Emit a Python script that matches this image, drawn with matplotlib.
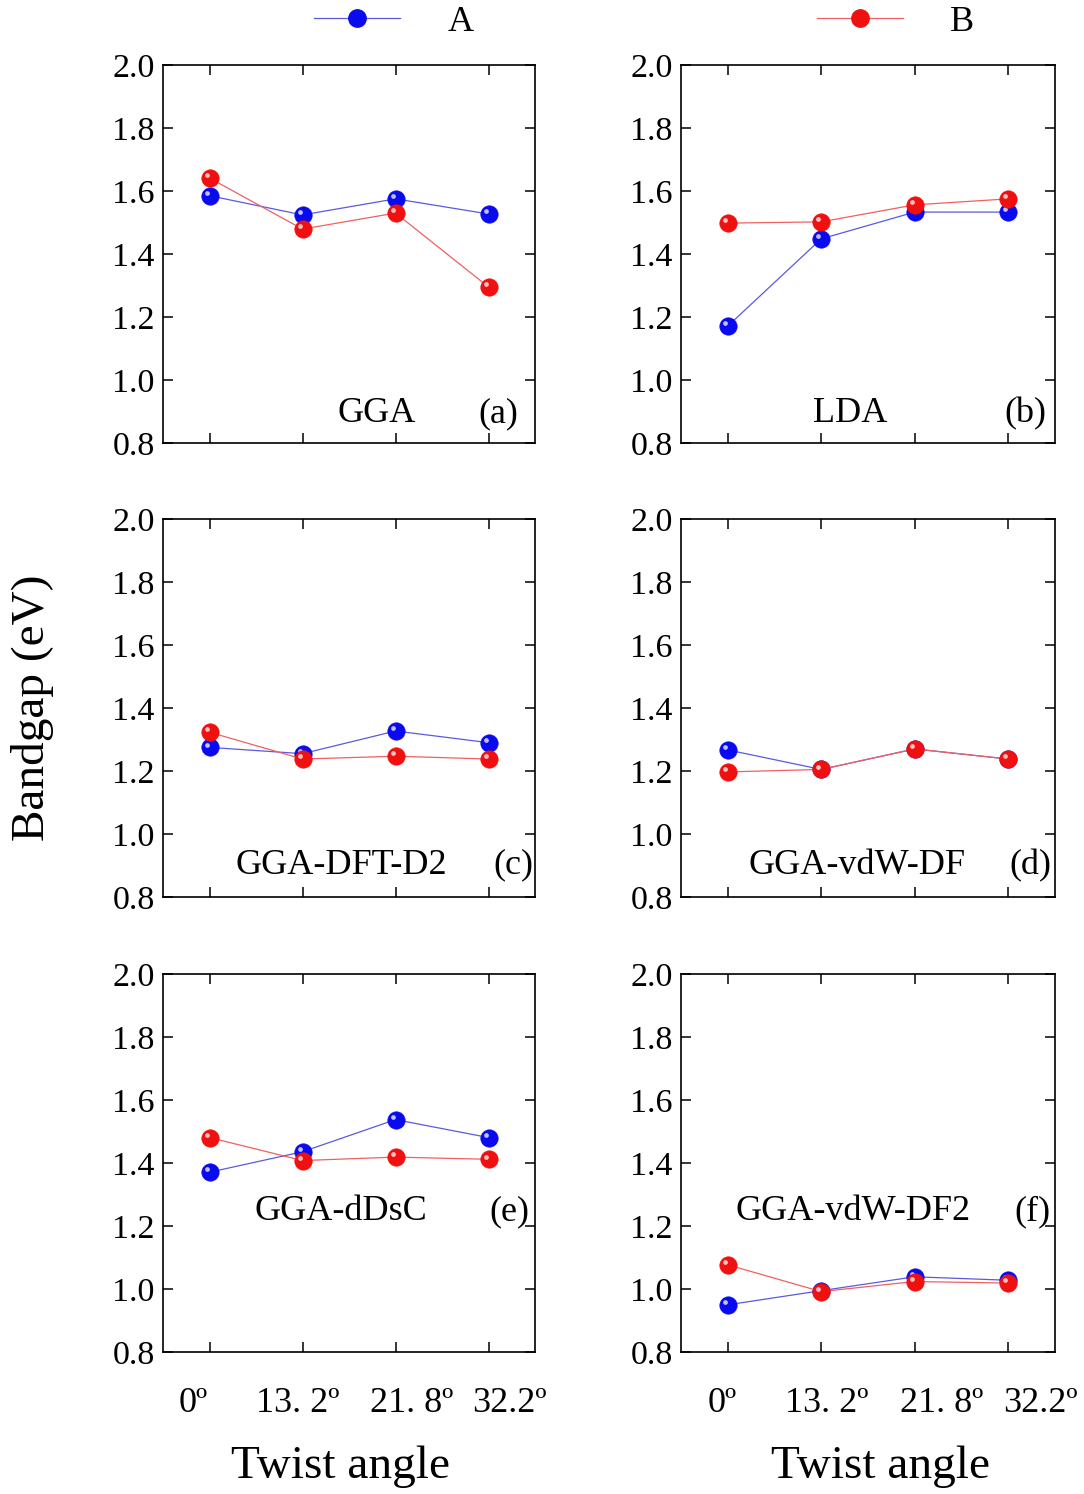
import matplotlib
matplotlib.use("Agg")
import matplotlib.pyplot as plt
import matplotlib.transforms as mtransforms
from matplotlib.lines import Line2D

plt.rcParams['font.family'] = ['Liberation Serif', 'DejaVu Serif']

# ---- data ----
angles = [0, 1, 2, 3]
angle_labels = ['0º', '13. 2º', '21. 8º', '32.2º']
methods = ['GGA', 'LDA', 'GGA-DFT-D2', 'GGA-vdW-DF', 'GGA-dDsC', 'GGA-vdW-DF2']
tags = ['(a)', '(b)', '(c)', '(d)', '(e)', '(f)']

gap_A = [
    [1.585, 1.524, 1.575, 1.527],
    [1.171, 1.448, 1.533, 1.533],
    [1.275, 1.255, 1.327, 1.290],
    [1.267, 1.205, 1.270, 1.238],
    [1.371, 1.436, 1.538, 1.481],
    [0.950, 0.995, 1.039, 1.028],
]
gap_B = [
    [1.641, 1.479, 1.530, 1.295],
    [1.498, 1.502, 1.556, 1.575],
    [1.323, 1.238, 1.247, 1.238],
    [1.197, 1.205, 1.270, 1.238],
    [1.481, 1.408, 1.419, 1.412],
    [1.077, 0.992, 1.024, 1.019],
]
yticks = [0.8, 1.0, 1.2, 1.4, 1.6, 1.8, 2.0]

# ---- layout (figure fractions) ----
col_x = [0.1504, 0.6282]
col_w = [0.3432, 0.3450]
row_y = [0.7035, 0.3996, 0.0950]
ax_h = 0.2530

# where the method name / tag sit inside each panel (axes coords)
name_pos = [(0.573, 0.077), (0.452, 0.077), (0.479, 0.084),
            (0.471, 0.084), (0.478, 0.372), (0.460, 0.372)]
tag_pos = [(0.900, 0.077), (0.922, 0.077), (0.941, 0.084),
           (0.933, 0.084), (0.930, 0.372), (0.940, 0.372)]
# the tick labels are not centred on their ticks in the original (pixels)
lab_shift = [[-16, -5, 16, 21], [-6, 5, 27, 32]]

colA_m, colA_l = '#0a0af0', '#5a5ae0'
colB_m, colB_l = '#f01010', '#f06060'

fig = plt.figure(figsize=(10.84, 14.94), dpi=100)


def balls(ax, x, y, mcol, lcol, z):
    ax.plot(x, y, '-', color=lcol, lw=0.9, zorder=z)
    ax.plot(x, y, 'o', ls='none', ms=12.5, mfc=mcol, mec=mcol, mew=0.5, zorder=z + 0.1)
    hl = mtransforms.offset_copy(ax.transData, fig=fig, x=-2.0, y=2.0, units='points')
    ax.plot(x, y, 'o', ls='none', ms=3.4, mfc='white', mec='none', alpha=0.75,
            transform=hl, zorder=z + 0.2)


for i in range(6):
    r, c = divmod(i, 2)
    ax = fig.add_axes([col_x[c], row_y[r], col_w[c], ax_h])
    balls(ax, angles, gap_A[i], colA_m, colA_l, 3)
    balls(ax, angles, gap_B[i], colB_m, colB_l, 4)
    ax.set_xlim(-0.5, 3.5)
    ax.set_ylim(0.8, 2.0)
    ax.set_yticks(yticks)
    ax.set_yticklabels(['%.1f' % v for v in yticks])
    ax.set_xticks(angles)
    ax.tick_params(direction='in', length=7, width=1.1, top=True, right=True,
                   labelsize=24.5)
    ax.tick_params(axis='x', pad=25, labelsize=26)
    ax.tick_params(axis='y', pad=6)
    if r == 2:
        ax.set_xticklabels(angle_labels)
        for lab, dx in zip(ax.get_xticklabels(), lab_shift[c]):
            lab.set_transform(lab.get_transform() +
                              mtransforms.ScaledTranslation(dx / 100, 0, fig.dpi_scale_trans))
    else:
        ax.set_xticklabels([])
    for s in ax.spines.values():
        s.set_linewidth(1.2)
    ax.text(*name_pos[i], methods[i], transform=ax.transAxes, fontsize=26,
            ha='center', va='center')
    ax.text(*tag_pos[i], tags[i], transform=ax.transAxes, fontsize=26,
            ha='center', va='center')

fig.text(0.314, 0.018, 'Twist angle', fontsize=34, ha='center', va='center')
fig.text(0.812, 0.018, 'Twist angle', fontsize=34, ha='center', va='center')
fig.text(0.030, 0.526, 'Bandgap (eV)', fontsize=34, rotation=90,
         ha='center', va='center')

hA = Line2D([], [], color=colA_l, lw=0.9, marker='o', ms=12.5, mfc=colA_m, mec=colA_m)
hB = Line2D([], [], color=colB_l, lw=0.9, marker='o', ms=12.5, mfc=colB_m, mec=colB_m)
for h, lab, xc in [(hA, 'A', 0.363), (hB, 'B', 0.826)]:
    fig.legend(handles=[h], labels=[lab], loc='center', bbox_to_anchor=(xc, 0.9850),
               frameon=False, fontsize=26, handlelength=2.4, handletextpad=1.3,
               borderpad=0)

fig.savefig('out.png', dpi=100)
